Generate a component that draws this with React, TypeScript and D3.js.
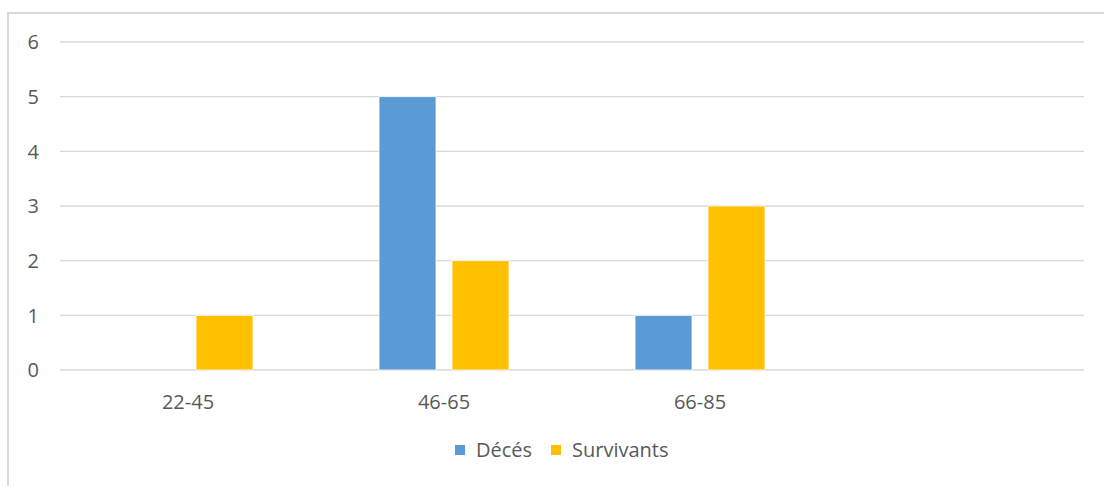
import React from "react";
import * as d3 from "d3";

const categories = ["22-45", "46-65", "66-85", ""];
const seriesNames = ["Décés", "Survivants"];
const deces = [0, 5, 1, 0];
const survivants = [1, 2, 3, 0];
const yTicks = [0, 1, 2, 3, 4, 5, 6];
const colors = ["#5b9bd5", "#ffc000"];

const W = 1104;
const H = 486;
const plot = { left: 60, right: 1084, top: 42, bottom: 370 };
const font = "'Open Sans', sans-serif";

export default function App() {
  const x0 = d3.scaleBand().domain(categories.map((_, i) => String(i))).range([plot.left, plot.right]);
  const x1 = d3.scaleBand().domain(seriesNames).range([0, 130]).paddingInner(0.219);
  const y = d3.scaleLinear().domain([0, 6]).range([plot.bottom, plot.top]);
  const values = [deces, survivants];

  return (
    <svg width={W} height={H} style={{ position: "absolute", left: 0, top: 0, background: "#fff" }}>
      <rect x={8} y={13} width={W + 20} height={H + 20} fill="#fff" stroke="#d9d9d9" strokeWidth={2} />
      {yTicks.map((t) => (
        <g key={t}>
          <line x1={plot.left} x2={plot.right} y1={y(t)} y2={y(t)} stroke="#d9d9d9" strokeWidth={1.3} />
          <text x={39} y={y(t)} dy="0.36em" textAnchor="end" fontFamily={font} fontSize={20} fill="#595959">
            {t}
          </text>
        </g>
      ))}
      {categories.map((c, i) => {
        const center = x0(String(i))! + x0.bandwidth() / 2;
        return (
          <g key={i}>
            {seriesNames.map((s, k) => {
              const v = values[k][i];
              if (!v) return null;
              return (
                <rect
                  key={s}
                  x={center - 65 + x1(s)!}
                  y={y(v)}
                  width={x1.bandwidth()}
                  height={y(0) - y(v)}
                  fill={colors[k]}
                  stroke="#fff"
                  strokeWidth={0.8}
                />
              );
            })}
            <text x={center} y={409} textAnchor="middle" fontFamily={font} fontSize={20} fill="#595959">
              {c}
            </text>
          </g>
        );
      })}
      <g fontFamily={font} fontSize={20} fill="#595959">
        <rect x={455} y={445} width={10} height={10} fill={colors[0]} />
        <text x={476} y={457}>{seriesNames[0]}</text>
        <rect x={551} y={445} width={10} height={10} fill={colors[1]} />
        <text x={572} y={457}>{seriesNames[1]}</text>
      </g>
    </svg>
  );
}
